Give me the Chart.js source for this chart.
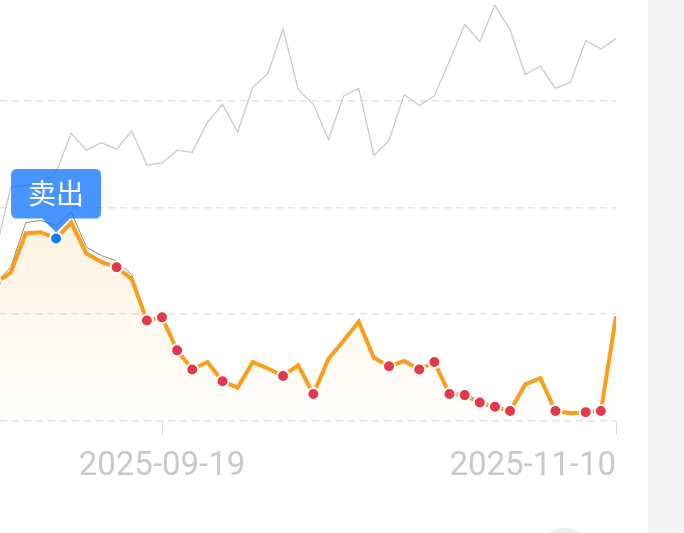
<!DOCTYPE html>
<html>
<head>
<meta charset="utf-8">
<script src="https://cdn.jsdelivr.net/npm/chart.js@4.4.1/dist/chart.umd.min.js"></script>
<style>
  html, body { margin: 0; padding: 0; background: #fff; overflow: hidden; }
  #wrap { position: relative; width: 684px; height: 533px; overflow: hidden; }
  #c { position: absolute; left: 0; top: 0; }
  #side { position: absolute; left: 648px; top: 0; width: 36px; height: 533px; background: #f4f4f4; }
  #knob { position: absolute; left: 546px; top: 528px; width: 38px; height: 20px; border-radius: 50%; background: #efefef; }
</style>
</head>
<body>
<div id="wrap">
  <canvas id="c" width="648" height="533"></canvas>
  <div id="side"></div>
  <div id="knob"></div>
</div>
<script>
// trading days shown (first one is cut at the left edge)
const dates = [
  '2025-09-04', '2025-09-05', '2025-09-08', '2025-09-09', '2025-09-10', '2025-09-11',
  '2025-09-12', '2025-09-15', '2025-09-16', '2025-09-17', '2025-09-18', '2025-09-19',
  '2025-09-22', '2025-09-23', '2025-09-24', '2025-09-25', '2025-09-26', '2025-09-29',
  '2025-09-30', '2025-10-09', '2025-10-10', '2025-10-13', '2025-10-14', '2025-10-15',
  '2025-10-16', '2025-10-17', '2025-10-20', '2025-10-21', '2025-10-22', '2025-10-23',
  '2025-10-24', '2025-10-27', '2025-10-28', '2025-10-29', '2025-10-30', '2025-10-31',
  '2025-11-03', '2025-11-04', '2025-11-05', '2025-11-06', '2025-11-07', '2025-11-10'
];

// orange series
const mainValues = [
  1.29, 1.39, 1.76, 1.77, 1.71, 1.86, 1.57, 1.49, 1.44, 1.33, 0.94, 0.97,
  0.66, 0.48, 0.55, 0.37, 0.31, 0.55, 0.49, 0.42, 0.52, 0.25, 0.58, 0.75,
  0.93, 0.59, 0.51, 0.56, 0.48, 0.55, 0.25, 0.24, 0.17, 0.13, 0.09, 0.34,
  0.40, 0.09, 0.07, 0.08, 0.09, 0.98
];

// thin brown series (close to the orange one)
const refValues = [
  1.29, 1.44, 1.86, 1.88, 1.83, 1.96, 1.63, 1.55, 1.50, 1.37, 0.94, 0.97,
  0.66, 0.48, 0.55, 0.37, 0.31, 0.55, 0.49, 0.42, 0.52, 0.25, 0.58, 0.75,
  0.93, 0.59, 0.51, 0.56, 0.48, 0.55, 0.25, 0.24, 0.17, 0.13, 0.09, 0.34,
  0.40, 0.09, 0.07, 0.08, 0.09, 0.98
];

// grey benchmark series
const benchValues = [
  1.58, 2.19, 2.21, 2.23, 2.33, 2.70, 2.54, 2.61, 2.55, 2.72, 2.40, 2.42,
  2.54, 2.52, 2.80, 2.97, 2.71, 3.13, 3.26, 3.68, 3.11, 2.97, 2.64, 3.05,
  3.12, 2.49, 2.63, 3.06, 2.96, 3.05, 3.38, 3.72, 3.56, 3.90, 3.67, 3.25,
  3.33, 3.12, 3.18, 3.57, 3.49, 3.59
];

// marked days (red dots) and the sell day (blue dot)
const markIndex = [0, 8, 10, 11, 12, 13, 15, 19, 21, 26, 28, 29, 30, 31, 32, 33, 34, 37, 39, 40];
const sellIndex = 4;
const sellLabel = '卖出';

const yTicks = [0, 1, 2, 3];
const xTickIndex = [11, 41];
const xMin = 0.295;

const W = 648, H = 533;

const toPoints = (vals) => vals.map((v, i) => ({ x: i, y: v }));
const pick = (idx) => mainValues.map((v, i) => ({ x: i, y: idx.includes(i) ? v : null }));

const fillGradient = (c) => {
  const { ctx, chartArea, scales } = c.chart;
  if (!chartArea) return 'rgba(250,158,28,0.08)';
  const g = ctx.createLinearGradient(0, scales.y.getPixelForValue(2), 0, chartArea.bottom);
  g.addColorStop(0, 'rgba(250,158,28,0.14)');
  g.addColorStop(1, 'rgba(250,158,28,0.01)');
  return g;
};

const canvas = document.getElementById('c');
const chart = new Chart(canvas, {
  type: 'line',
  data: {
    datasets: [
      {
        data: pick([sellIndex]),
        showLine: false,
        clip: false,
        pointRadius: 6,
        pointBackgroundColor: '#1677ff',
        pointBorderColor: '#fff',
        pointBorderWidth: 2
      },
      {
        data: pick(markIndex),
        showLine: false,
        clip: false,
        pointRadius: 6,
        pointBackgroundColor: '#e5384a',
        pointBorderColor: '#fff',
        pointBorderWidth: 2
      },
      {
        data: toPoints(mainValues),
        borderColor: '#fa9e1c',
        borderWidth: 4,
        pointRadius: 0,
        fill: 'origin',
        backgroundColor: fillGradient
      },
      {
        data: toPoints(refValues),
        borderColor: '#a98163',
        borderWidth: 1,
        pointRadius: 0
      },
      {
        data: toPoints(benchValues),
        borderColor: '#cacaca',
        borderWidth: 1.3,
        pointRadius: 0
      }
    ]
  },
  options: {
    responsive: false,
    maintainAspectRatio: false,
    devicePixelRatio: 1,
    animation: false,
    events: [],
    layout: { padding: { left: 0, right: 32, top: 0, bottom: 34 } },
    plugins: {
      legend: { display: false },
      tooltip: {
        enabled: true,
        displayColors: false,
        backgroundColor: 'rgba(22,119,255,0.78)',
        bodyColor: '#fff',
        bodyFont: { family: '"Noto Sans CJK SC"', size: 28 },
        padding: { left: 17, right: 17, top: 8, bottom: 8 },
        cornerRadius: 6,
        caretSize: 14,
        caretPadding: 6,
        xAlign: 'center',
        yAlign: 'bottom',
        callbacks: {
          title: () => '',
          label: () => sellLabel
        }
      }
    },
    scales: {
      x: {
        type: 'linear',
        min: xMin,
        max: dates.length - 1,
        afterBuildTicks: (s) => { s.ticks = [{ value: xMin }].concat(xTickIndex.map(v => ({ value: v }))); },
        ticks: {
          autoSkip: false,
          maxRotation: 0,
          align: 'inner',
          padding: 0,
          color: '#c9c9c9',
          font: { family: 'Roboto', size: 33, lineHeight: 1.95 },
          callback: (v) => Number.isInteger(v) ? dates[v] : ''
        },
        grid: {
          drawOnChartArea: false,
          tickLength: 14,
          tickColor: (c) => c.index === 0 ? 'rgba(0,0,0,0)' : '#dcdcdc'
        },
        border: { display: false }
      },
      y: {
        min: 0,
        max: 3.95,
        afterBuildTicks: (s) => { s.ticks = yTicks.map(v => ({ value: v })); },
        ticks: { display: false, padding: 0 },
        grid: { color: '#e3e3e3', drawTicks: false, lineWidth: 1.5 },
        border: { display: false, dash: [7, 5] }
      }
    }
  }
});

// the plot area should sit flush with the top-left corner of the page
const dx = Math.round(chart.chartArea.left);
const dy = Math.round(chart.chartArea.top);
if (dx || dy) {
  canvas.style.left = -dx + 'px';
  canvas.style.top = -dy + 'px';
  chart.resize(W + dx, H + dy);
}

chart.tooltip.setActiveElements([{ datasetIndex: 0, index: sellIndex }], { x: 0, y: 0 });
chart.update();
</script>
</body>
</html>
